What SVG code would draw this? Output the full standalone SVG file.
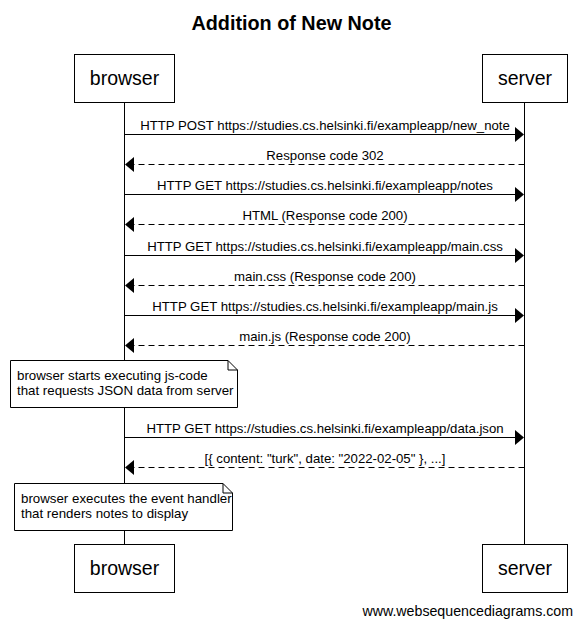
<svg xmlns="http://www.w3.org/2000/svg" width="582" height="627" viewBox="0 0 582 627">
<defs>
<style>
text{font-family:"Liberation Sans",Arial,sans-serif;fill:#000}
.title{font-size:19.8px;font-weight:bold;text-anchor:middle}
.part{font-size:19.5px;text-anchor:middle}
.msg{font-size:13.2px;text-anchor:middle}
.note{font-size:13.3px}
.box{fill:#fff;stroke:#000;stroke-width:1}
.life{stroke:#000;stroke-width:1}
.solid{stroke:#000;stroke-width:1;fill:none}
.dash{stroke:#000;stroke-width:1;fill:none;stroke-dasharray:6,4}
.head{fill:#000}
</style>
</defs>
<rect width="582" height="627" fill="#fff"/>
<text class="title" x="291.5" y="30">Addition of New Note</text>
<g id="lifelines">
<line class="life" x1="124.5" y1="102" x2="124.5" y2="544"/>
<line class="life" x1="524.5" y1="102" x2="524.5" y2="544"/>
</g>
<g id="browser">
<rect class="box" x="74.5" y="54.5" width="100" height="48"/>
<text class="part" x="124.5" y="85">browser</text>
</g>
<g id="server">
<rect class="box" x="482.5" y="54.5" width="85" height="48"/>
<text class="part" x="525" y="85">server</text>
</g>
<g id="browser-bottom">
<rect class="box" x="74.5" y="544.5" width="100" height="48"/>
<text class="part" x="124.5" y="575">browser</text>
</g>
<g id="server-bottom">
<rect class="box" x="482.5" y="544.5" width="85" height="48"/>
<text class="part" x="525" y="575">server</text>
</g>
<g id="connectors">
<line class="solid" x1="124.5" y1="134.5" x2="516" y2="134.5"/>
<polygon class="head" points="515,127 524,134.5 515,142"/>
<text class="msg" x="325" y="130">HTTP POST https://studies.cs.helsinki.fi/exampleapp/new_note</text>

<line class="dash" x1="524.5" y1="164.5" x2="133" y2="164.5"/>
<polygon class="head" points="134,157 125,164.5 134,172"/>
<text class="msg" x="325" y="160">Response code 302</text>

<line class="solid" x1="124.5" y1="194.5" x2="516" y2="194.5"/>
<polygon class="head" points="515,187 524,194.5 515,202"/>
<text class="msg" x="325" y="190">HTTP GET https://studies.cs.helsinki.fi/exampleapp/notes</text>

<line class="dash" x1="524.5" y1="224.5" x2="133" y2="224.5"/>
<polygon class="head" points="134,217 125,224.5 134,232"/>
<text class="msg" x="325" y="220">HTML (Response code 200)</text>

<line class="solid" x1="124.5" y1="255.5" x2="516" y2="255.5"/>
<polygon class="head" points="515,248 524,255.5 515,263"/>
<text class="msg" x="325" y="251">HTTP GET https://studies.cs.helsinki.fi/exampleapp/main.css</text>

<line class="dash" x1="524.5" y1="285.5" x2="133" y2="285.5"/>
<polygon class="head" points="134,278 125,285.5 134,293"/>
<text class="msg" x="325" y="281">main.css (Response code 200)</text>

<line class="solid" x1="124.5" y1="315.5" x2="516" y2="315.5"/>
<polygon class="head" points="515,308 524,315.5 515,323"/>
<text class="msg" x="325" y="311">HTTP GET https://studies.cs.helsinki.fi/exampleapp/main.js</text>

<line class="dash" x1="524.5" y1="345.5" x2="133" y2="345.5"/>
<polygon class="head" points="134,338 125,345.5 134,353"/>
<text class="msg" x="325" y="341">main.js (Response code 200)</text>

<line class="solid" x1="124.5" y1="437.5" x2="516" y2="437.5"/>
<polygon class="head" points="515,430 524,437.5 515,445"/>
<text class="msg" x="325" y="433">HTTP GET https://studies.cs.helsinki.fi/exampleapp/data.json</text>

<line class="dash" x1="524.5" y1="467.5" x2="133" y2="467.5"/>
<polygon class="head" points="134,460 125,467.5 134,475"/>
<text class="msg" x="325" y="463">[{ content: "turk", date: "2022-02-05" }, ...]</text>
</g>
<g id="note1">
<path class="box" d="M10.5,360.5 H228 L237.5,370 V407.5 H10.5 Z"/>
<path class="solid" d="M228,360.5 V370 H237.5"/>
<text class="note" x="17" y="380">browser starts executing js-code</text>
<text class="note" x="17" y="395">that requests JSON data from server</text>
</g>
<g id="note2">
<path class="box" d="M14.5,483.5 H223 L232.5,493 V530.5 H14.5 Z"/>
<path class="solid" d="M223,483.5 V493 H232.5"/>
<text class="note" x="21" y="503">browser executes the event handler</text>
<text class="note" x="21" y="518">that renders notes to display</text>
</g>
<text x="573" y="616" style="font-size:14.2px;text-anchor:end">www.websequencediagrams.com</text>
</svg>
